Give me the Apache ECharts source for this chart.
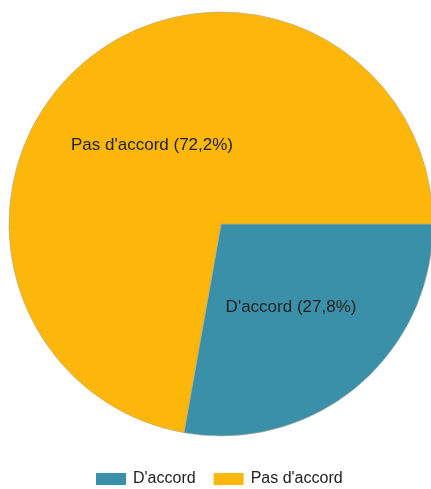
<!DOCTYPE html>
<html>
<head>
<meta charset="UTF-8">
<title>Pie</title>
<script src="https://cdn.jsdelivr.net/npm/echarts@6/dist/echarts.min.js"></script>
<style>
  html, body { margin: 0; padding: 0; background: #fff; }
  #main { width: 431px; height: 489px; }
</style>
</head>
<body>
<div id="main"></div>
<script type="text/javascript">
// data
var categories = ["D'accord", "Pas d'accord"];
var values = [27.8, 72.2];
var colors = ['#3a90a8', '#fdb70b'];

var myChart = echarts.init(document.getElementById('main'));

var pieData = categories.map(function (name, i) {
    return { name: name, value: values[i], itemStyle: { color: colors[i] } };
});
// nudge the big slice label a bit lower, like the original
pieData[1].label = { offset: [1, 5] };

myChart.setOption({
    animation: false,
    legend: {
        top: 471,
        left: 96,
        padding: 0,
        itemWidth: 30,
        itemHeight: 12,
        itemGap: 18,
        icon: 'rect',
        itemStyle: { borderWidth: 0 },
        textStyle: { fontFamily: 'Liberation Sans', fontSize: 16, color: '#222', padding: [0, 0, 0, 2] },
        data: categories
    },
    series: [{
        type: 'pie',
        center: [221, 224],
        radius: 212,
        startAngle: 0,
        clockwise: true,
        itemStyle: { borderColor: '#b0a890', borderWidth: 0.6 },
        label: {
            position: 'inside',
            fontFamily: 'Liberation Sans',
            fontSize: 17,
            color: '#222',
            formatter: function (p) {
                return p.name + ' (' + p.value.toFixed(1).replace('.', ',') + '%)';
            }
        },
        labelLine: { show: false },
        emphasis: { disabled: true },
        data: pieData
    }]
});
</script>
</body>
</html>
